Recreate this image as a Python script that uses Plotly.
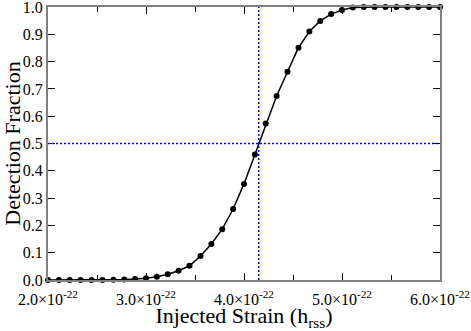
"""Detection efficiency curve: detection fraction vs injected strain"""

import plotly.graph_objects as go

# injected strain, in units of 1e-22
strain_e22 = [2.000, 2.111, 2.222, 2.333, 2.444, 2.556, 2.667, 2.778, 2.889,
              3.000, 3.111, 3.222, 3.333, 3.444, 3.556, 3.667, 3.778, 3.889,
              4.000, 4.111, 4.222, 4.333, 4.444, 4.556, 4.667, 4.778, 4.889,
              5.000, 5.111, 5.222, 5.333, 5.444, 5.556, 5.667, 5.778, 5.889,
              6.000]
det_fraction = [0.0, 0.0, 0.0, 0.0, 0.0, 0.0, 0.001, 0.002, 0.004,
                0.006, 0.012, 0.021, 0.034, 0.052, 0.088, 0.132, 0.186, 0.260,
                0.352, 0.460, 0.573, 0.674, 0.763, 0.851, 0.910, 0.949, 0.974,
                0.989, 0.998, 1.0, 1.0, 1.0, 1.0, 1.0, 1.0, 1.0,
                1.0]

# 50% efficiency point
h50_e22 = 4.15
half = 0.5

x_ticks_e22 = [2.0, 3.0, 4.0, 5.0, 6.0]
x_ticktext = ["2.0×10<sup>-22</sup>", "3.0×10<sup>-22</sup>", "4.0×10<sup>-22</sup>",
              "5.0×10<sup>-22</sup>", "6.0×10<sup>-22</sup>"]
y_ticks = [0.0, 0.1, 0.2, 0.3, 0.4, 0.5, 0.6, 0.7, 0.8, 0.9, 1.0]
y_ticktext = ["%.1f" % v for v in y_ticks]

E = 1e-22
x = [v * E for v in strain_e22]

fig = go.Figure()
fig.add_trace(go.Scatter(
    x=x, y=det_fraction, mode="lines+markers",
    line=dict(color="black", width=1.5),
    marker=dict(color="black", size=6),
    cliponaxis=False, showlegend=False))

# blue dotted guide lines
fig.add_vline(x=h50_e22 * E, line=dict(color="#0000ff", width=1.5, dash="2px,2px"))
fig.add_hline(y=half, line=dict(color="#0000ff", width=1.5, dash="2px,2px"))

font = "Liberation Serif, Times New Roman, serif"
fig.update_xaxes(
    range=[2 * E, 6 * E], tickvals=[v * E for v in x_ticks_e22], ticktext=x_ticktext,
    ticks="inside", ticklen=7, tickwidth=1, tickcolor="black",
    minor=dict(dtick=0.5 * E, tick0=2 * E, ticks="inside", ticklen=5, tickcolor="black"),
    showline=True, linecolor="#808080", linewidth=2, mirror="ticks",
    showgrid=False, zeroline=False, automargin=False,
    ticklabeloverflow="allow", ticklabelstandoff=4,
    tickfont=dict(family=font, size=16, color="black"),
    title=dict(text="Injected Strain (h<sub>rss</sub>)",
               font=dict(family=font, size=22, color="black"), standoff=4))
fig.update_yaxes(
    range=[0, 1], tickvals=y_ticks, ticktext=y_ticktext,
    ticks="inside", ticklen=7, tickwidth=1, tickcolor="black",
    showline=True, linecolor="#808080", linewidth=2, mirror="ticks",
    showgrid=False, zeroline=False, automargin=False,
    ticklabeloverflow="allow",
    tickfont=dict(family=font, size=16, color="black"),
    title=dict(text="Detection Fraction",
               font=dict(family=font, size=22, color="black"), standoff=10))
fig.update_layout(
    width=471, height=331,
    margin=dict(l=48, r=31, t=7, b=51),
    paper_bgcolor="white", plot_bgcolor="white")

# drop the page's default body margin so the figure sits at the corner
fig.write_html("out.html", config={"displayModeBar": False},
               post_script="document.body.style.margin='0';")
